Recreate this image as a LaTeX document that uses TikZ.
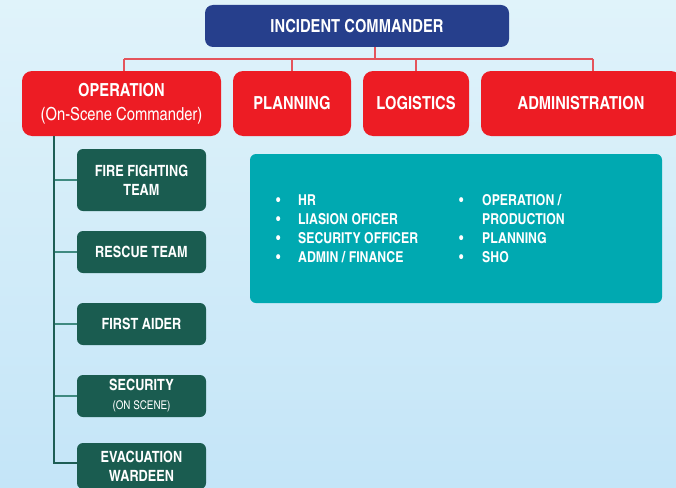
\documentclass[tikz,border=0pt]{standalone}
\usepackage{fontspec}
\setmainfont{TeX Gyre Heros Cn}
\usetikzlibrary{positioning}

\definecolor{cmdblue}{HTML}{263F8C}
\definecolor{secred}{HTML}{ED1C24}
\definecolor{teamgreen}{HTML}{1A5C50}
\definecolor{listteal}{HTML}{00A9B1}
\definecolor{wirered}{HTML}{E4545B}
\definecolor{wiregreen}{HTML}{1E5E55}
\definecolor{wireteal}{HTML}{3F8A80}
\definecolor{bgtop}{HTML}{E0F3FA}
\definecolor{bgbot}{HTML}{C4E5F8}

\tikzset{
  box/.style={rounded corners=8pt, inner sep=0pt, align=center, text=white},
  cmdbox/.style={box, fill=cmdblue, minimum width=304pt, minimum height=42pt,
    font=\bfseries\fontsize{18}{21}\selectfont},
  secbox/.style={box, fill=secred, minimum height=65pt, rounded corners=10pt,
    font=\bfseries\fontsize{18}{24}\selectfont},
  teambox/.style={box, fill=teamgreen, minimum width=129pt, minimum height=42pt,
    rounded corners=6pt, font=\bfseries\fontsize{15.5}{19}\selectfont},
  listbox/.style={box, fill=listteal, minimum width=412pt, minimum height=149pt, rounded corners=6pt},
  listtext/.style={inner sep=0pt, text=white, font=\bfseries\fontsize{15}{19}\selectfont},
  redwire/.style={draw=wirered, line width=1.2pt},
  greenwire/.style={draw=wiregreen, line width=1.4pt},
  branchwire/.style={draw=wireteal, line width=1.4pt}
}

\begin{document}
\begin{tikzpicture}[x=1pt, y=-1pt]
  \clip (0,0) rectangle (676,487);
  \shade[top color=bgtop, bottom color=bgbot] (0,0) rectangle (676,487);

  % top of the chart
  \node[cmdbox] (ic) at (357,26) {INCIDENT COMMANDER};
  \node[secbox, minimum width=199pt] (opn) at (121.5,103.5)
    {OPERATION\\{\mdseries(On-Scene Commander)}};
  \node[secbox, minimum width=118pt] (plan) at (292,103.5) {PLANNING};
  \node[secbox, minimum width=106pt] (logi) at (416,103.5) {LOGISTICS};
  \node[secbox, minimum width=200pt] (admin) at (581,103.5) {ADMINISTRATION};

  \coordinate (busL) at (124,59);
  \coordinate (busR) at (593,59);
  \draw[redwire] ([xshift=18pt]ic.south) -- ([xshift=18pt]ic.south |- busL);
  \draw[redwire] (busL) -- (busR);
  \draw[redwire] (busL) -- (busL |- opn.north);
  \draw[redwire] (plan.north |- busL) -- (plan.north);
  \draw[redwire] (logi.north |- busL) -- (logi.north);
  \draw[redwire] (busR) -- (busR |- admin.north);

  % teams under operation
  \node[teambox, minimum height=62pt] (fire) at (141.5,180) {FIRE FIGHTING\\TEAM};
  \node[teambox] (rescue) at (141.5,252) {RESCUE TEAM};
  \node[teambox] (aider) at (141.5,324) {FIRST AIDER};
  \node[teambox] (secu) at (141.5,396)
    {SECURITY\\{\mdseries\fontsize{12}{14}\selectfont(ON SCENE)}};
  \node[teambox, minimum height=46pt] (evac) at (141.5,466) {EVACUATION\\WARDEEN};

  \coordinate (trunk) at ([xshift=32pt]opn.south west);
  \foreach \t in {fire,rescue,aider,secu}
    \draw[branchwire] (trunk |- \t.west) -- (\t.west);
  \draw[greenwire] (trunk) |- ([yshift=3pt]evac.west);

  % duties box
  \node[listbox] (duties) at (456,228.5) {};
  \node[listtext, anchor=base west] (dutiesL) at (276,205)
    {\begin{tabular}[t]{@{}p{22pt}@{}l@{}}
      \textbullet & HR\\
      \textbullet & LIASION OFICER\\
      \textbullet & SECURITY OFFICER\\
      \textbullet & ADMIN / FINANCE
    \end{tabular}};
  \node[listtext, anchor=base west] (dutiesR) at (459,205)
    {\begin{tabular}[t]{@{}p{23pt}@{}l@{}}
      \textbullet & OPERATION /\\
                  & PRODUCTION\\
      \textbullet & PLANNING\\
      \textbullet & SHO
    \end{tabular}};
\end{tikzpicture}
\end{document}
